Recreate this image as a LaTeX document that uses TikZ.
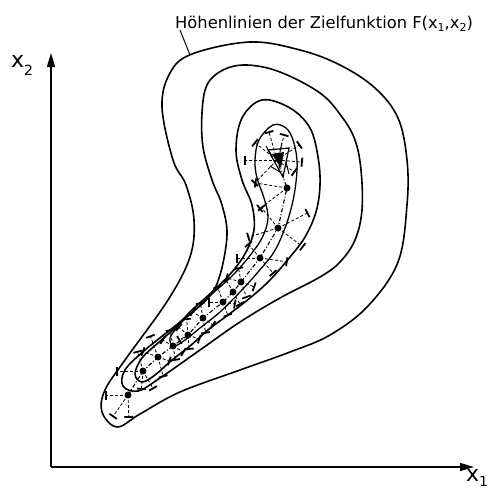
\documentclass[tikz,border=0pt]{standalone}
\usepackage{fontspec}
\setmainfont{DejaVu Sans}
\usetikzlibrary{arrows.meta}
\newcommand\myray[3]{%
  \draw[rayline] (#1) -- ++(#2:#3);
  \draw[tickmark] (#1) ++(#2:#3) ++(#2+90:4.5) -- ++(#2-90:9);}
\begin{document}
\begin{tikzpicture}[x=1pt,y=-1pt,
  contour/.style={line width=1.6pt},
  axis/.style={line width=1.4pt,-{Triangle[length=14pt,width=8pt]}},
  rayline/.style={line width=0.8pt,densely dashed},
  tickmark/.style={line width=1.8pt},
  pathline/.style={line width=1.1pt,dash pattern=on 4pt off 2pt on 1pt off 2pt},
  dot/.style={circle,fill,inner sep=0pt,minimum size=7pt}]
\useasboundingbox (0,0) rectangle (493,488);
% axes
\coordinate (O) at (51,467);
\coordinate (Ytip) at (51,53);
\coordinate (Xtip) at (474,467);
\draw[axis] (O) -- (Ytip);
\draw[axis] (O) -- (Xtip);
\node[anchor=base west,inner sep=0pt] (ylab) at (11,67) {\fontsize{22}{22}\selectfont x\raisebox{-8pt}{\fontsize{14}{14}\selectfont 2}};
\node[anchor=base west,inner sep=0pt] (xlab) at (466,481) {\fontsize{22}{22}\selectfont x\raisebox{-5pt}{\fontsize{14}{14}\selectfont 1}};
% title
\node[anchor=base west,inner sep=0pt] (title) at (175,28) {\fontsize{16.3}{16}\selectfont H\"ohenlinien der Zielfunktion F(x\raisebox{-3pt}{\fontsize{11}{11}\selectfont 1},x\raisebox{-3pt}{\fontsize{11}{11}\selectfont 2})};
\coordinate (L1) at (180,30);
\coordinate (L2) at (190,55);
\draw[line width=1pt] (L1) -- (L2);
% contours
\draw[contour] plot[smooth cycle,tension=0.6] coordinates {(250,42) (300,50) (340,65) (375,88) (398,118) (407,160) (407,205) (398,262) (368,306) (330,335) (290,352) (240,370) (180,392) (140,414) (117,427) (102,412) (105,390) (125,360) (168,300) (190,257) (194,220) (186,185) (173,160) (162,107) (170,73) (192,54)};
\draw[contour] plot[smooth cycle,tension=0.6] coordinates {(247,65) (280,72) (320,93) (342,117) (355,140) (361,170) (362,210) (355,240) (340,262) (320,277) (280,298) (240,322) (200,350) (160,378) (138,391) (123,386) (125,370) (145,350) (180,322) (208,298) (220,275) (227,235) (222,205) (212,180) (203,147) (202,113) (207,85) (223,70)};
\draw[contour] plot[smooth cycle,tension=0.6] coordinates {(262,100) (290,108) (310,128) (318,157) (320,185) (316,212) (305,237) (290,257) (270,280) (250,298) (228,315) (208,330) (190,346) (172,360) (155,375) (142,382) (135,374) (142,358) (158,343) (175,328) (192,310) (212,292) (232,272) (246,252) (254,230) (252,205) (242,180) (236,150) (242,118)};
\draw[contour,line width=1.3pt] plot[smooth cycle,tension=0.6] coordinates {(273,125) (286,128) (293,140) (297,160) (296,182) (292,205) (285,228) (274,252) (258,272) (240,292) (220,312) (200,328) (185,340) (174,346) (170,338) (180,324) (195,310) (212,294) (232,276) (248,258) (262,238) (268,218) (264,198) (257,178) (255,160) (259,140)};
% search path
\coordinate (P0) at (128,395);
\coordinate (P1) at (143,371);
\coordinate (P2) at (158,357);
\coordinate (P3) at (173,346);
\coordinate (P4) at (188,335);
\coordinate (P5) at (203,318);
\coordinate (P6) at (223,302);
\coordinate (P6b) at (233,292);
\coordinate (P7) at (241,282);
\coordinate (P8) at (260,258);
\coordinate (P9) at (278,228);
\coordinate (P10) at (287,188);
\coordinate (P11) at (277,160);
\draw[pathline] (P0) -- (P1) -- (P2) -- (P3) -- (P4) -- (P5) -- (P6) -- (P6b) -- (P7) -- (P8) -- (P9) -- (P10) -- (P11);
% rays with ticks
\foreach \a/\l in {180/22,125/26,88/22} {\myray{P0}{\a}{\l}}
\foreach \a/\l in {180/26,-105/20,60/20,95/18} {\myray{P1}{\a}{\l}}
\foreach \a/\l in {-110/22,75/20,-160/16,20/12} {\myray{P2}{\a}{\l}}
\foreach \a/\l in {-100/16,80/14,-150/12,30/12} {\myray{P3}{\a}{\l}}
\foreach \a/\l in {-95/16,85/14,-140/12,20/12,150/10} {\myray{P4}{\a}{\l}}
\foreach \a/\l in {-100/15,80/15,-150/12,35/12} {\myray{P5}{\a}{\l}}
\foreach \a/\l in {-110/16,70/14,180/14,10/12} {\myray{P6}{\a}{\l}}
\foreach \a/\l in {-120/14,60/14} {\myray{P6b}{\a}{\l}}
\foreach \a/\l in {-164/15,-100/14,70/16,20/14} {\myray{P7}{\a}{\l}}
\foreach \a/\l in {180/23,-130/18,8/27,49/20} {\myray{P8}{\a}{\l}}
\foreach \a/\l in {-129/26,163/31,-27/33,37/31} {\myray{P9}{\a}{\l}}
\foreach \a/\l in {-171/32,143/34} {\myray{P10}{\a}{\l}}
\foreach \a/\l in {180/32,134/32,-142/28,-106/29,-74/26,-34/27,5/25,35/21} {\myray{P11}{\a}{\l}}
% dots
\foreach \p in {P0,P1,P2,P3,P4,P5,P6,P6b,P7,P8,P9,P10} {\node[dot] at (\p) {};}
% final cluster
\draw[line width=1.2pt] (268,150) -- (289,148) -- (283,177) -- cycle;
\fill (272,154) -- (284,152) -- (281,168) -- cycle;
\draw[line width=1pt] (266,146) -- (272,156) (282,143) -- (280,152) (286,162) -- (289,174) (270,166) -- (280,172);
\end{tikzpicture}
\end{document}
